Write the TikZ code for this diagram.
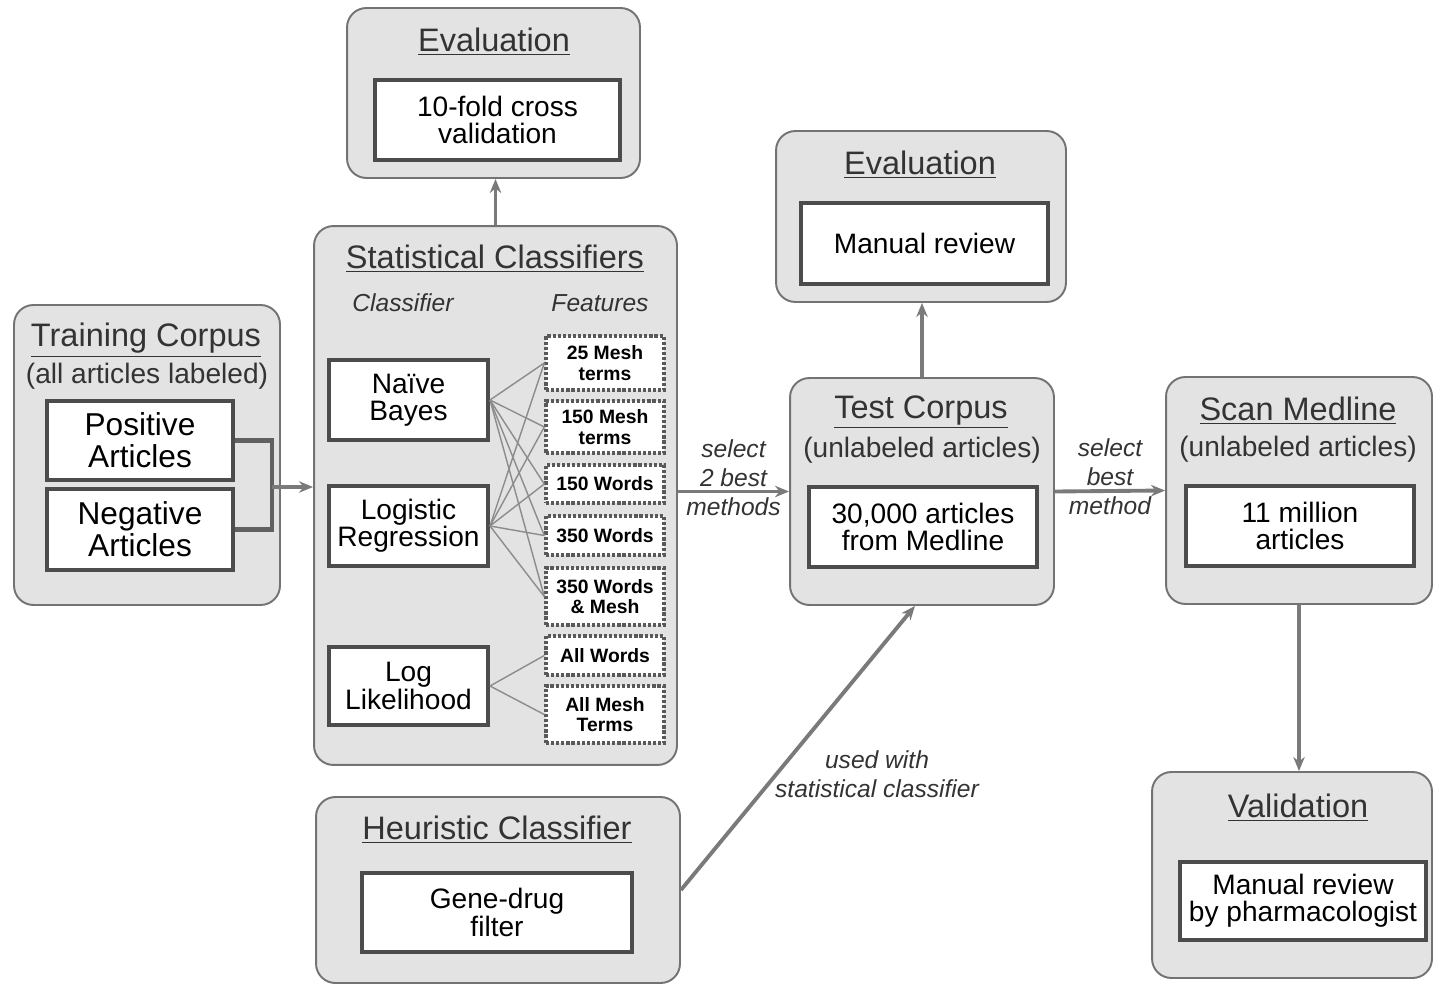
\documentclass[tikz,border=0pt]{standalone}
\usepackage{fontspec}
\setmainfont{Liberation Sans}
\usetikzlibrary{arrows.meta}

\begin{document}
\begin{tikzpicture}
        [x=0.02cm,y=-0.02cm,
         panel/.style={draw=black!55,line width=1.1pt,fill=black!11,rounded corners=11pt},
         inbox/.style={draw=black!70,line width=2.3pt,fill=white,inner sep=0pt,align=center,font=\fontsize{16}{15.5}\selectfont},
         feat/.style={draw=black!65,line width=2pt,dash pattern=on 1.8pt off 1.1pt,fill=white,inner sep=0pt,minimum width=2.36cm,align=center,font=\fontsize{11}{11.5}\selectfont\bfseries},
         title/.style={text=black!80,font=\fontsize{18.5}{20}\selectfont},
         sub/.style={text=black!80,font=\fontsize{16}{18}\selectfont},
         lab/.style={text=black!80,align=center,font=\fontsize{14}{16.5}\selectfont\itshape},
         flow/.style={draw=black!52,line width=2.2pt,-{Stealth[length=8pt,width=6.5pt]}},
         bracket/.style={draw=black!62,line width=2.8pt},
         link/.style={draw=black!45,line width=0.8pt}]
        \useasboundingbox (0,0) rectangle (1435,986);

        % grey panels
        \node[panel,minimum width=5.32cm,minimum height=6cm]    (train) at (147,455)   {};
        \node[panel,minimum width=7.26cm,minimum height=10.78cm] (stat) at (495.5,495.5) {};
        \node[panel,minimum width=5.86cm,minimum height=3.4cm]  (evalA) at (493.5,93)  {};
        \node[panel,minimum width=5.8cm,minimum height=3.42cm]  (evalB) at (921,216.5) {};
        \node[panel,minimum width=5.28cm,minimum height=4.54cm] (test)  at (922,491.5) {};
        \node[panel,minimum width=5.32cm,minimum height=4.54cm] (scan)  at (1299,490.5) {};
        \node[panel,minimum width=5.6cm,minimum height=4.12cm]  (valid) at (1292,875)  {};
        \node[panel,minimum width=7.28cm,minimum height=3.72cm] (heur)  at (498,890)   {};

        % titles
        \node[title] (trainT) at (146,340)  {\underline{Training Corpus}};
        \node[sub]   (trainS) at (147,376)  {(all articles labeled)};
        \node[title] (statT)  at (495,259)  {\underline{Statistical Classifiers}};
        \node[lab]   (clsT)   at (403,303)  {Classifier};
        \node[lab]   (featT)  at (600,303)  {Features};
        \node[title] (evalAT) at (494,42)   {\underline{Evaluation}};
        \node[title] (evalBT) at (920,165)  {\underline{Evaluation}};
        \node[title] (testT)  at (921,412)  {\underline{Test Corpus}};
        \node[sub]   (testS)  at (922,450)  {(unlabeled articles)};
        \node[title] (scanT)  at (1298,411) {\underline{Scan Medline}};
        \node[sub]   (scanS)  at (1298,449) {(unlabeled articles)};
        \node[title] (validT) at (1298,808) {\underline{Validation}};
        \node[title] (heurT)  at (497,830)  {\underline{Heuristic Classifier}};

        % white boxes
        \node[inbox,minimum width=3.72cm,minimum height=1.58cm,font=\fontsize{18}{18}\selectfont] (pos) at (140,440.5) {Positive\\Articles};
        \node[inbox,minimum width=3.72cm,minimum height=1.62cm,font=\fontsize{18}{18}\selectfont] (neg) at (140,529.5) {Negative\\Articles};
        \node[inbox,minimum width=3.18cm,minimum height=1.6cm]  (nb) at (408.5,400) {Naïve\\Bayes};
        \node[inbox,minimum width=3.18cm,minimum height=1.6cm]  (lr) at (408.5,526) {Logistic\\Regression};
        \node[inbox,minimum width=3.18cm,minimum height=1.56cm] (ll) at (408.5,686) {Log\\Likelihood};
        \node[inbox,minimum width=4.9cm,minimum height=1.6cm]   (cv) at (497.5,120) {10-fold cross\\validation};
        \node[inbox,minimum width=4.94cm,minimum height=1.62cm] (mr) at (924.5,243.5) {Manual review};
        \node[inbox,minimum width=4.56cm,minimum height=1.6cm]  (med) at (923,527) {30,000 articles\\from Medline};
        \node[inbox,minimum width=4.56cm,minimum height=1.6cm]  (mil) at (1300,526) {11 million\\articles};
        \node[inbox,minimum width=4.92cm,minimum height=1.56cm] (pharm) at (1303,901) {Manual review\\by pharmacologist};
        \node[inbox,minimum width=5.4cm,minimum height=1.58cm]  (gd) at (497,912.5) {Gene-drug\\filter};

        % feature sets
        \node[feat,minimum height=1.08cm] (f1) at (605,363)   {25 Mesh\\terms};
        \node[feat,minimum height=1.04cm] (f2) at (605,427)   {150 Mesh\\terms};
        \node[feat,minimum height=0.76cm] (f3) at (605,484)   {150 Words};
        \node[feat,minimum height=0.78cm] (f4) at (605,535.5) {350 Words};
        \node[feat,minimum height=1.14cm] (f5) at (605,596.5) {350 Words\\\& Mesh};
        \node[feat,minimum height=0.78cm] (f6) at (605,655.5) {All Words};
        \node[feat,minimum height=1.14cm] (f7) at (605,714.5) {All Mesh\\Terms};

        \foreach \from in {nb,lr}
          \foreach \to in {f1,f2,f3,f4,f5}
            \draw[link] (\from.east) -- (\to.west);
        \foreach \to in {f6,f7}
          \draw[link] (ll.east) -- (\to.west);

        % flow
        \coordinate (join) at (272,487);
        \draw[bracket] (pos.east) -| (join) |- (neg.east);
        \draw[flow] (join) -- (join -| stat.west);
        \draw[flow] (stat.north) -- (stat.north |- evalA.south);
        \draw[flow] (test.north) -- (test.north |- evalB.south);
        \draw[flow] (stat.east |- test.west) -- node[lab,yshift=8pt] {select\\2 best\\methods} (test.west);
        \draw[flow] (test.east) -- node[lab,yshift=8pt] {select\\best\\method} (scan.west);
        \draw[flow] (scan.south) -- (scan.south |- valid.north);
        \draw[flow] (heur.east) -- ([xshift=-4pt]test.south);
        \node[lab] (usedT) at (877,774) {used with\\statistical classifier};
\end{tikzpicture}
\end{document}
